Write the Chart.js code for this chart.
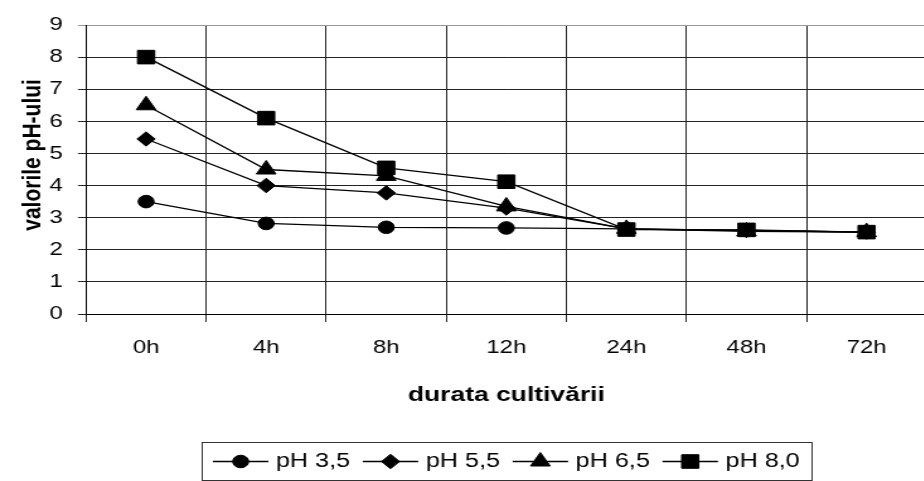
<!DOCTYPE html>
<html>
<head>
<meta charset="utf-8">
<script src="https://cdn.jsdelivr.net/npm/chart.js@4.4.1/dist/chart.umd.min.js"></script>
<style>
  html, body { margin: 0; padding: 0; background: #fff; overflow: hidden; }
  /* the reference is stretched sideways, so draw narrow and widen it */
  #wrap { width: 746px; height: 481px; transform: scaleX(1.26); transform-origin: 0 0; }
</style>
</head>
<body>
<div id="wrap"><canvas id="c" width="746" height="481"></canvas></div>
<script>
const categories = ['0h', '4h', '8h', '12h', '24h', '48h', '72h'];
const ph35 = [3.5, 2.82, 2.7, 2.68, 2.65, 2.6, 2.55];
const ph55 = [5.45, 4.0, 3.77, 3.3, 2.65, 2.6, 2.55];
const ph65 = [6.5, 4.5, 4.3, 3.35, 2.65, 2.57, 2.55];
const ph80 = [8.0, 6.1, 4.55, 4.12, 2.63, 2.62, 2.55];
const seriesLabels = ['pH 3,5', 'pH 5,5', 'pH 6,5', 'pH 8,0'];
const yTicks = [0, 1, 2, 3, 4, 5, 6, 7, 8, 9];

const FONT = '"Liberation Sans", Arial, sans-serif';

function series(label, data, style, radius) {
  return {
    label: label,
    data: data,
    borderColor: '#000',
    borderWidth: 1.3,
    backgroundColor: '#000',
    pointStyle: style,
    pointRadius: radius,
    pointBackgroundColor: '#000',
    pointBorderColor: '#000',
    pointBorderWidth: 1,
    tension: 0
  };
}

// boxed legend under the axis title: line - marker - line, then text
const legendBox = {
  id: 'legendBox',
  afterDraw(chart) {
    const ctx = chart.ctx;
    const area = chart.chartArea;
    const lineLen = 44, gapText = 6, gapItem = 10, padX = 9;
    const top = 442, bottom = 480, cy = 461.5;
    ctx.save();
    ctx.font = '20px ' + FONT;
    const items = chart.data.datasets.map(ds => ({ ds: ds, w: ctx.measureText(ds.label).width }));
    let total = padX * 2 + gapItem * (items.length - 1);
    items.forEach(it => { total += lineLen + gapText + it.w; });
    let x = (area.left + area.right) / 2 - total / 2;
    ctx.strokeStyle = '#333';
    ctx.lineWidth = 1;
    ctx.strokeRect(Math.round(x) + 0.5, top + 0.5, Math.round(total), bottom - top);
    x += padX;
    items.forEach(it => {
      ctx.strokeStyle = '#000';
      ctx.fillStyle = '#000';
      ctx.lineWidth = 1.3;
      ctx.beginPath();
      ctx.moveTo(x, cy);
      ctx.lineTo(x + lineLen, cy);
      ctx.stroke();
      ctx.lineWidth = 1;
      Chart.helpers.drawPoint(ctx, {
        pointStyle: it.ds.pointStyle,
        radius: it.ds.pointRadius,
        borderWidth: 1,
        rotation: 0
      }, x + lineLen / 2, cy);
      x += lineLen + gapText;
      ctx.fillStyle = '#000';
      ctx.textBaseline = 'middle';
      ctx.textAlign = 'left';
      ctx.fillText(it.ds.label, x, cy);
      x += it.w + gapItem;
    });
    ctx.restore();
  }
};

new Chart(document.getElementById('c'), {
  type: 'line',
  data: {
    labels: categories,
    datasets: [
      series(seriesLabels[0], ph35, 'circle', 6.3),
      series(seriesLabels[1], ph55, 'rectRot', 7.2),
      series(seriesLabels[2], ph65, 'triangle', 9),
      series(seriesLabels[3], ph80, 'rect', 9.6)
    ]
  },
  options: {
    responsive: false,
    animation: false,
    layout: { padding: { top: 25, right: 3, bottom: 0, left: 0 } },
    plugins: {
      legend: { display: false },
      tooltip: { enabled: false }
    },
    scales: {
      x: {
        type: 'category',
        offset: true,
        afterFit: s => { s.height = 167; },
        grid: { offset: true, color: '#222', lineWidth: 1, tickLength: 8 },
        border: { color: '#000', width: 1 },
        ticks: { color: '#000', font: { family: FONT, size: 19 }, padding: 14, maxRotation: 0 },
        title: {
          display: true,
          text: 'durata cultivării',
          color: '#000',
          font: { family: FONT, size: 21, weight: 'bold' },
          padding: { top: 0, bottom: 73 }
        }
      },
      y: {
        min: 0,
        max: 9,
        afterFit: s => { s.width = 68.3; },
        afterBuildTicks: s => { s.ticks = yTicks.map(v => ({ value: v })); },
        grid: {
          color: ctx => (ctx.tick && ctx.tick.value === 9 ? '#999' : '#222'),
          lineWidth: 1,
          tickLength: 6.4
        },
        border: { color: '#000', width: 1 },
        ticks: { color: '#000', font: { family: FONT, size: 19 }, padding: 12 },
        title: {
          display: true,
          text: '     valorile pH-ului',
          color: '#000',
          font: { family: FONT, size: 21, weight: 'bold' },
          padding: { top: 14, bottom: 0 }
        }
      }
    }
  },
  plugins: [legendBox]
});
</script>
</body>
</html>
